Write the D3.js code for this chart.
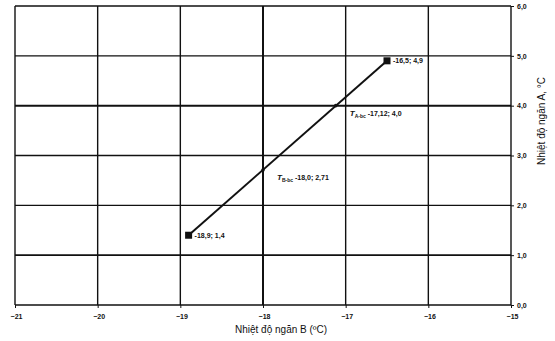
<!DOCTYPE html>
<html>
<head>
<meta charset="utf-8">
<script src="https://cdn.jsdelivr.net/npm/d3@7"></script>
<style>
    body { margin: 0; background: #fff; }
    svg { display: block; font-family: "Liberation Sans", Arial, sans-serif; }
    .tick text { font-size: 7px; font-weight: bold; fill: #111; }
</style>
</head>
<body>
<div id="chart"></div>
<script>
// chart data
const xTicks = [-21, -20, -19, -18, -17, -16, -15];
const yTicks = [0, 1, 2, 3, 4, 5, 6];
const lineX = [-18.9, -16.5];
const lineY = [1.4, 4.9];
const endLabels = ["-18,9;  1,4", "-16,5;  4,9"];
const bcX = [-18.0, -17.12];
const bcY = [2.71, 4.0];
const bcSub = ["B-bc", "A-bc"];
const bcLabels = ["-18,0;  2,71", "-17,12;  4,0"];

const width = 555, height = 341;
const margin = {top: 6, right: 44, bottom: 36, left: 15};

const svg = d3.select("#chart").append("svg").attr("width", width).attr("height", height);

const x = d3.scaleLinear().domain([-21, -15]).range([margin.left, width - margin.right]);
const y = d3.scaleLinear().domain([0, 6]).range([height - margin.bottom, margin.top]);

// gridlines (some drawn heavier, like the scanned original)
const heavyX = [-18], heavyY = [4];
svg.append("g").selectAll("line").data(xTicks).join("line")
    .attr("x1", d => x(d)).attr("x2", d => x(d))
    .attr("y1", y(0)).attr("y2", y(6))
    .attr("stroke", "#111").attr("stroke-width", d => heavyX.includes(d) ? 2 : 1.4);
svg.append("g").selectAll("line").data(yTicks).join("line")
    .attr("x1", x(-21)).attr("x2", x(-15))
    .attr("y1", d => y(d)).attr("y2", d => y(d))
    .attr("stroke", "#111").attr("stroke-width", d => heavyY.includes(d) ? 2 : (d === 1 ? 1.7 : 1.4));

// axes
const xAxis = svg.append("g").attr("transform", "translate(0," + y(0) + ")")
    .call(d3.axisBottom(x).tickValues(xTicks).tickSize(3).tickFormat(d3.format("d")));
xAxis.select(".domain").remove();
xAxis.selectAll(".tick line").attr("stroke", "#111");
xAxis.selectAll(".tick text").attr("dy", "1.1em").attr("dx", "1px");

const yAxis = svg.append("g").attr("transform", "translate(" + x(-15) + ",0)")
    .call(d3.axisRight(y).tickValues(yTicks).tickSize(3).tickFormat(d => d.toFixed(1).replace(".", ",")));
yAxis.select(".domain").remove();
yAxis.selectAll(".tick line").attr("stroke", "#111");
yAxis.selectAll(".tick text").attr("x", 6);

// axis titles
svg.append("text").attr("x", 281).attr("y", 333).attr("text-anchor", "middle")
    .style("font-size", "10px").attr("fill", "#111").text("Nhiệt độ ngăn B (ºC)");
svg.append("text").attr("transform", "translate(545,121) rotate(-90)").attr("text-anchor", "middle")
    .style("font-size", "10px").attr("fill", "#111").text("Nhiệt độ ngăn A, °C");

// the line between the two end points
const pts = lineX.map((d, i) => [x(d), y(lineY[i])]);
svg.append("path").attr("d", d3.line()(pts)).attr("fill", "none")
    .attr("stroke", "#111").attr("stroke-width", 2);

svg.append("g").selectAll("rect").data(pts).join("rect")
    .attr("x", d => d[0] - 3.5).attr("y", d => d[1] - 3.5)
    .attr("width", 7).attr("height", 7).attr("fill", "#111");

svg.append("g").selectAll("text").data(pts).join("text")
    .attr("x", d => d[0] + 6).attr("y", d => d[1] + 2.5)
    .style("font-size", "7px").style("font-weight", "bold").attr("fill", "#111")
    .text((d, i) => endLabels[i]);

// balance points on the line
svg.append("g").selectAll("circle").data(bcX).join("circle")
    .attr("cx", d => x(d)).attr("cy", (d, i) => y(bcY[i])).attr("r", 1.8).attr("fill", "#111");

const bc = svg.append("g").selectAll("text").data(bcX).join("text")
    .attr("x", d => x(d) + 14).attr("y", (d, i) => y(bcY[i]) + 10)
    .style("font-size", "7px").style("font-weight", "bold").attr("fill", "#111");
bc.append("tspan").style("font-style", "italic").style("font-size", "8px").text("T");
bc.append("tspan").attr("dy", 2).style("font-size", "5px").text((d, i) => bcSub[i]);
bc.append("tspan").attr("dy", -2).text((d, i) => " " + bcLabels[i]);
</script>
</body>
</html>
